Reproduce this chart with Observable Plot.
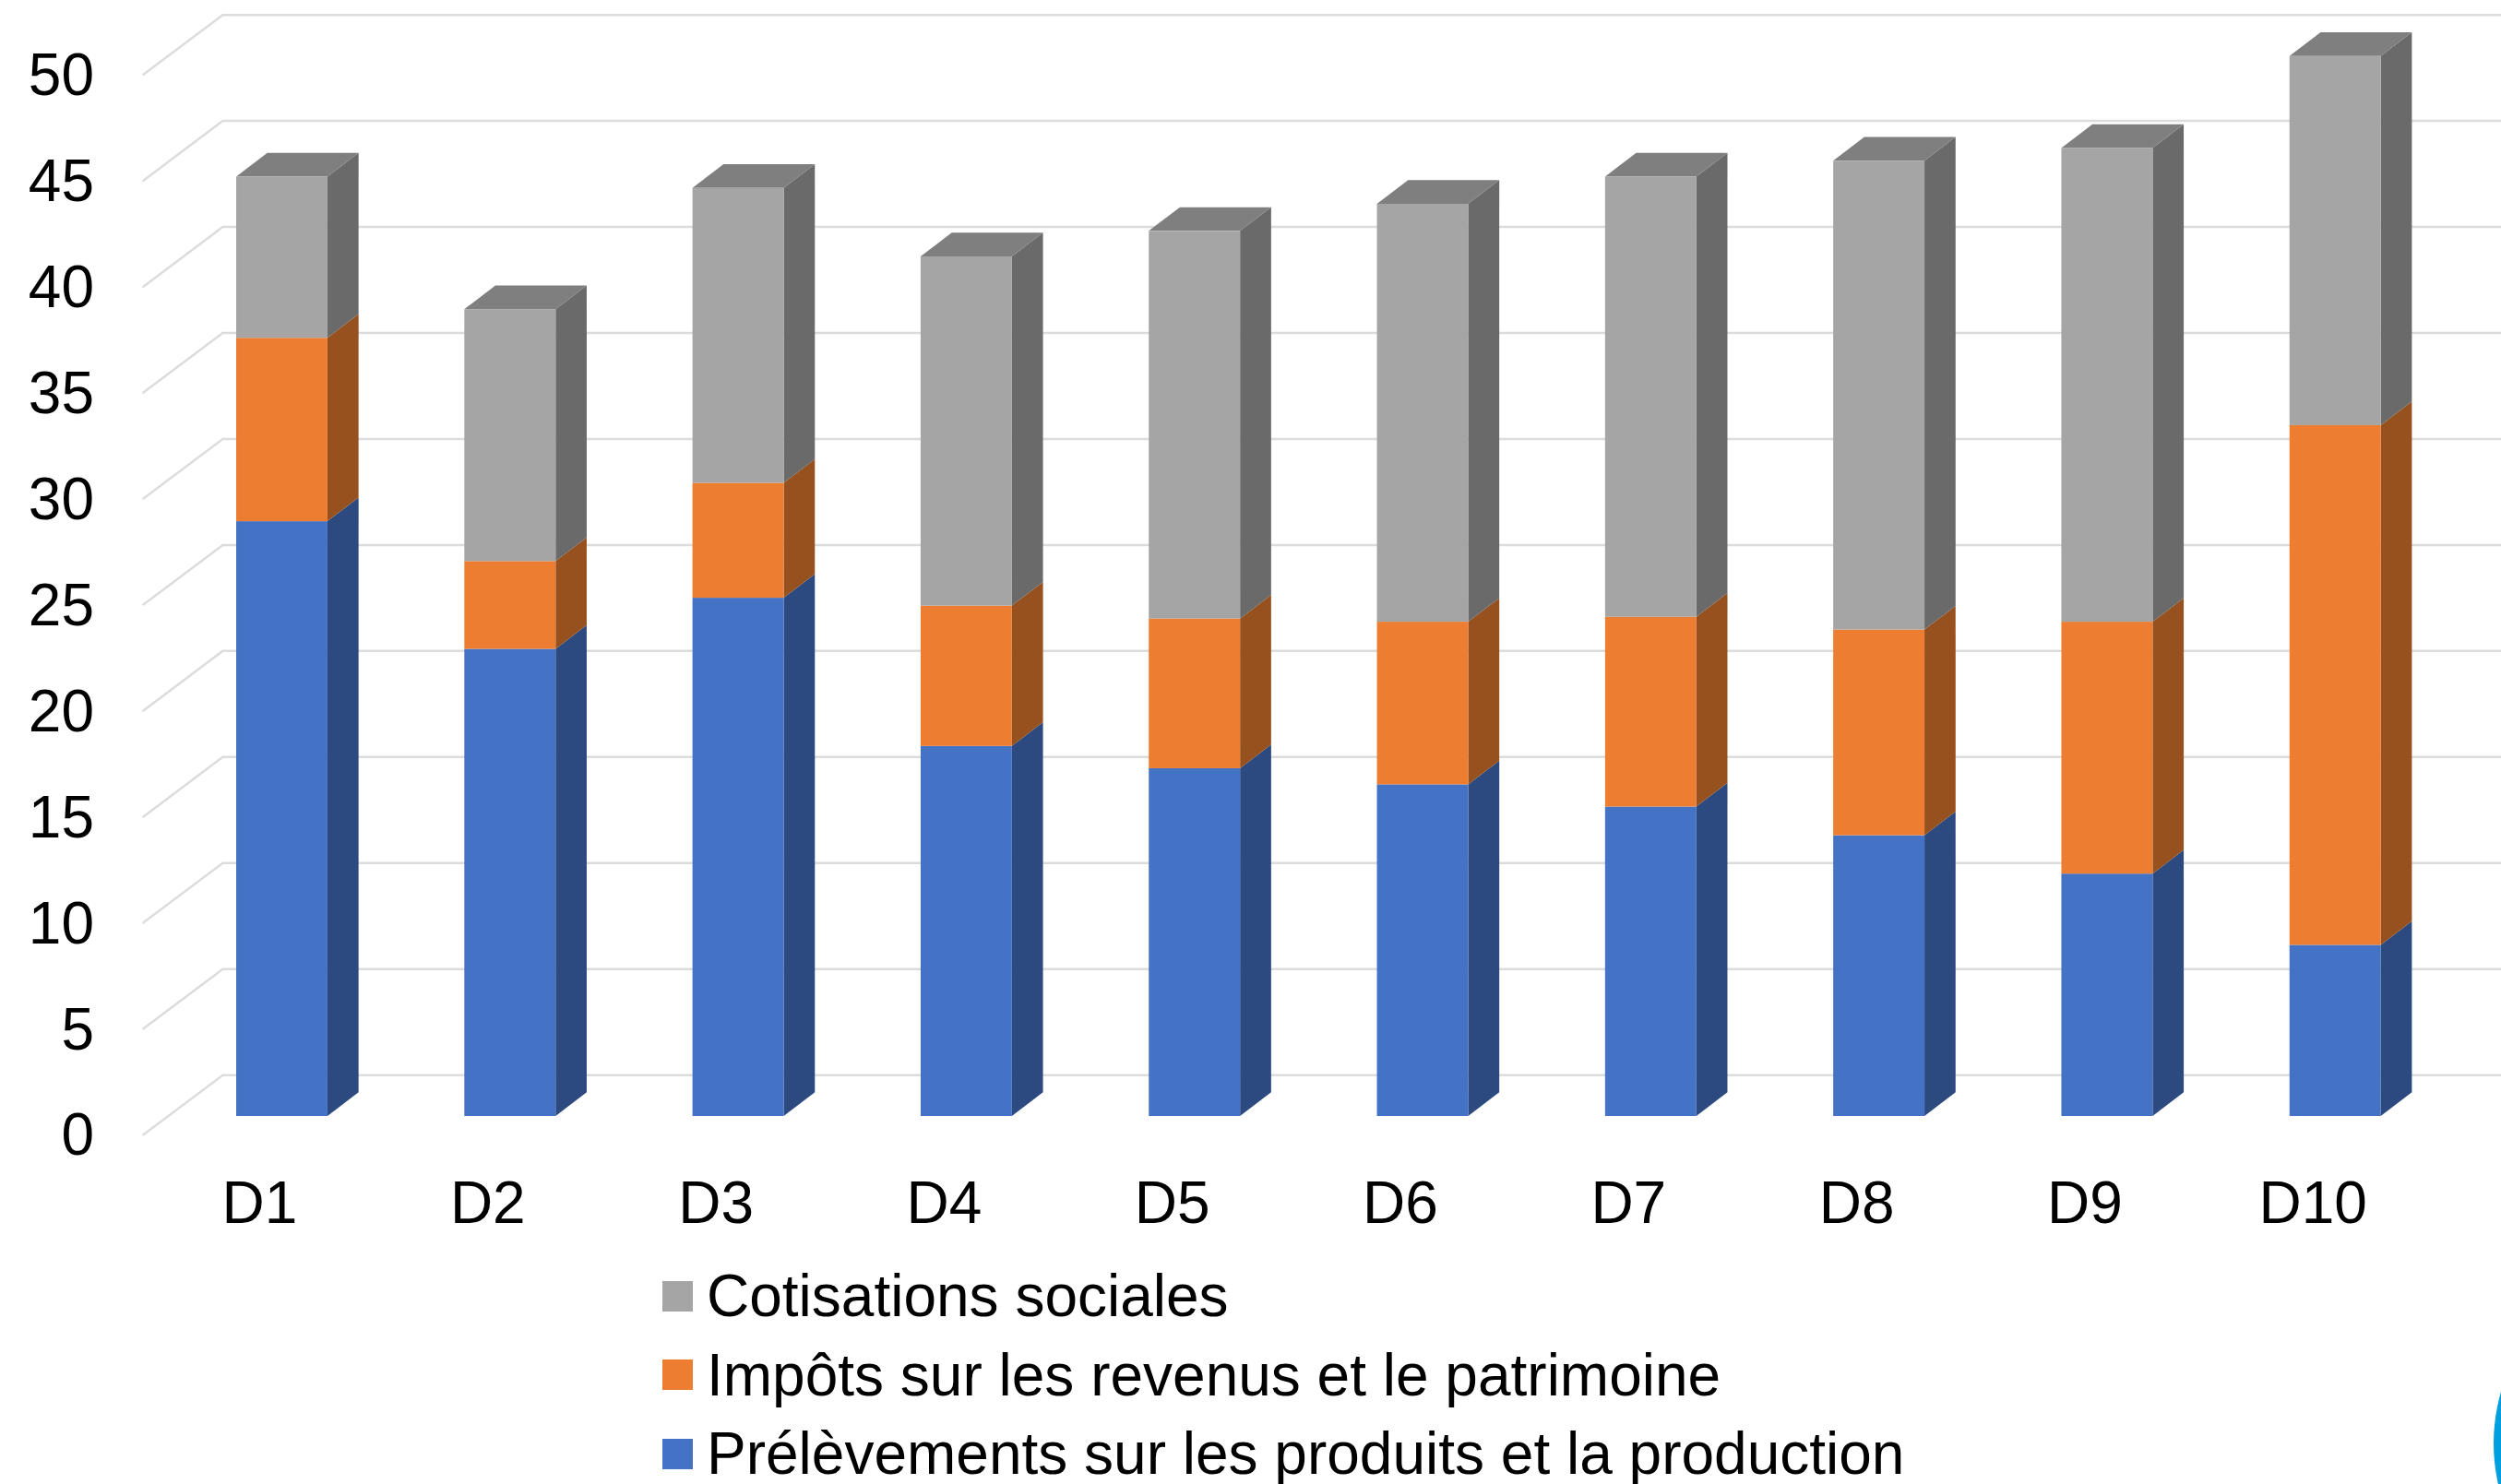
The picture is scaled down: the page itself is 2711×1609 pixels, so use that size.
<!DOCTYPE html>
<html lang="fr">
<head>
<meta charset="utf-8">
<script src="https://cdn.jsdelivr.net/npm/d3@7"></script>
<script src="https://cdn.jsdelivr.net/npm/@observablehq/plot@0.6"></script>
<style>
  html, body { margin: 0; padding: 0; background: #fff; overflow: hidden; }
  body { width: 2711px; height: 1609px; position: relative; font-family: "Liberation Sans", Arial, sans-serif; }
  #chart svg { display: block; }
  #legend { position: absolute; left: 718px; top: 1362.5px; font-size: 64px; color: #000; }
  .row { display: flex; align-items: center; height: 85.5px; white-space: nowrap; }
  .row span:last-child { line-height: 1; }
  .sw { width: 33px; height: 33px; margin-right: 15px; flex: none; }
  #logo { position: absolute; left: 2703px; top: 1365px; width: 400px; height: 400px; border-radius: 50%; background: #00A0E0; }
</style>
</head>
<body>
<div id="chart"></div>
<div id="legend"></div>
<div id="logo"></div>
<script>
const categories = ["D1", "D2", "D3", "D4", "D5", "D6", "D7", "D8", "D9", "D10"];
const yTicks = [0, 5, 10, 15, 20, 25, 30, 35, 40, 45, 50];

// Values
const prelevements = [28.05, 22.03, 24.44, 17.45, 16.40, 15.64, 14.59, 13.24, 11.43, 8.07];
const impots       = [8.65, 4.14, 5.42, 6.62, 7.06, 7.67, 8.95, 9.70, 11.88, 24.51];
const cotisations  = [7.60, 11.88, 13.91, 16.47, 18.28, 19.71, 20.76, 22.11, 22.34, 17.41];

const seriesNames = ["Prélèvements sur les produits et la production", "Impôts sur les revenus et le patrimoine", "Cotisations sociales"];
const seriesValues = [prelevements, impots, cotisations];
const frontColors = ["#4472C4", "#ED7D31", "#A5A5A5"];
const sideColors = ["#2C4A80", "#97511E", "#6A6A6A"];
const topColor = "#7F7F7F";
const gridColor = "#DCDCDC";

// Projection constants of the fake 3D box, in scale units
const halfBar = 0.2, depthX = 0.1363, depthY = 1.118;
const gridFront = {x: -0.6086, dy: -0.86}, gridBack = {x: -0.2608, dy: 1.95}, gridEnd = 9.727;

const segments = [];
categories.forEach((c, i) => {
  let base = 0;
  seriesValues.forEach((vals, s) => {
    segments.push({i, s, y1: base, y2: base + vals[i], id: c + "-" + s});
    base += vals[i];
  });
});
const sideRows = segments.flatMap(d => [
  {...d, x: d.i + halfBar, b: d.y1, t: d.y2},
  {...d, x: d.i + halfBar + depthX, b: d.y1 + depthY, t: d.y2 + depthY}
]);
const topRows = segments.filter(d => d.s === 2).flatMap(d => [
  {id: d.id, x1: d.i - halfBar, x2: d.i + halfBar, y: d.y2},
  {id: d.id, x1: d.i - halfBar + depthX, x2: d.i + halfBar + depthX, y: d.y2 + depthY}
]);
const gridRows = yTicks.flatMap(t => [
  {t, x: gridFront.x, y: t + gridFront.dy},
  {t, x: gridBack.x, y: t + gridBack.dy},
  {t, x: gridEnd, y: t + gridBack.dy}
]);

const chart = Plot.plot({
  width: 2711,
  height: 1360,
  marginLeft: 103,
  marginRight: 0,
  marginTop: 0,
  marginBottom: 100,
  x: {domain: [-0.8188, 9.727]},
  y: {domain: [-2.175, 52.63], label: null},
  color: {type: "identity"},
  style: {fontFamily: "'Liberation Sans', Arial, sans-serif", background: "#fff", color: "#000"},
  marks: [
    Plot.line(gridRows, {x: "x", y: "y", z: "t", stroke: gridColor, strokeWidth: 2.5, curve: "linear"}),
    Plot.area(sideRows, {x1: "x", y1: "b", y2: "t", z: "id", fill: d => sideColors[d.s], curve: "linear"}),
    Plot.area(topRows, {x1: "x1", x2: "x2", y1: "y", z: "id", fill: topColor, curve: "linear"}),
    Plot.rect(segments, {x1: d => d.i - halfBar, x2: d => d.i + halfBar, y1: "y1", y2: "y2", fill: d => frontColors[d.s]}),
    Plot.axisY({ticks: yTicks, tickSize: 0, tickPadding: 0, dx: -1.5, dy: 21.5, fontSize: 64, label: null}),
    Plot.axisX({ticks: categories.map((c, i) => i), tickFormat: i => categories[i], tickSize: 0, tickPadding: 20, dx: -24.5, fontSize: 64, label: null})
  ]
});
document.getElementById("chart").append(chart);

const legend = document.getElementById("legend");
[2, 1, 0].forEach(s => {
  const row = document.createElement("div");
  row.className = "row";
  const sw = document.createElement("span");
  sw.className = "sw";
  sw.style.background = frontColors[s];
  const label = document.createElement("span");
  label.textContent = seriesNames[s];
  row.append(sw, label);
  legend.append(row);
});
</script>
</body>
</html>
